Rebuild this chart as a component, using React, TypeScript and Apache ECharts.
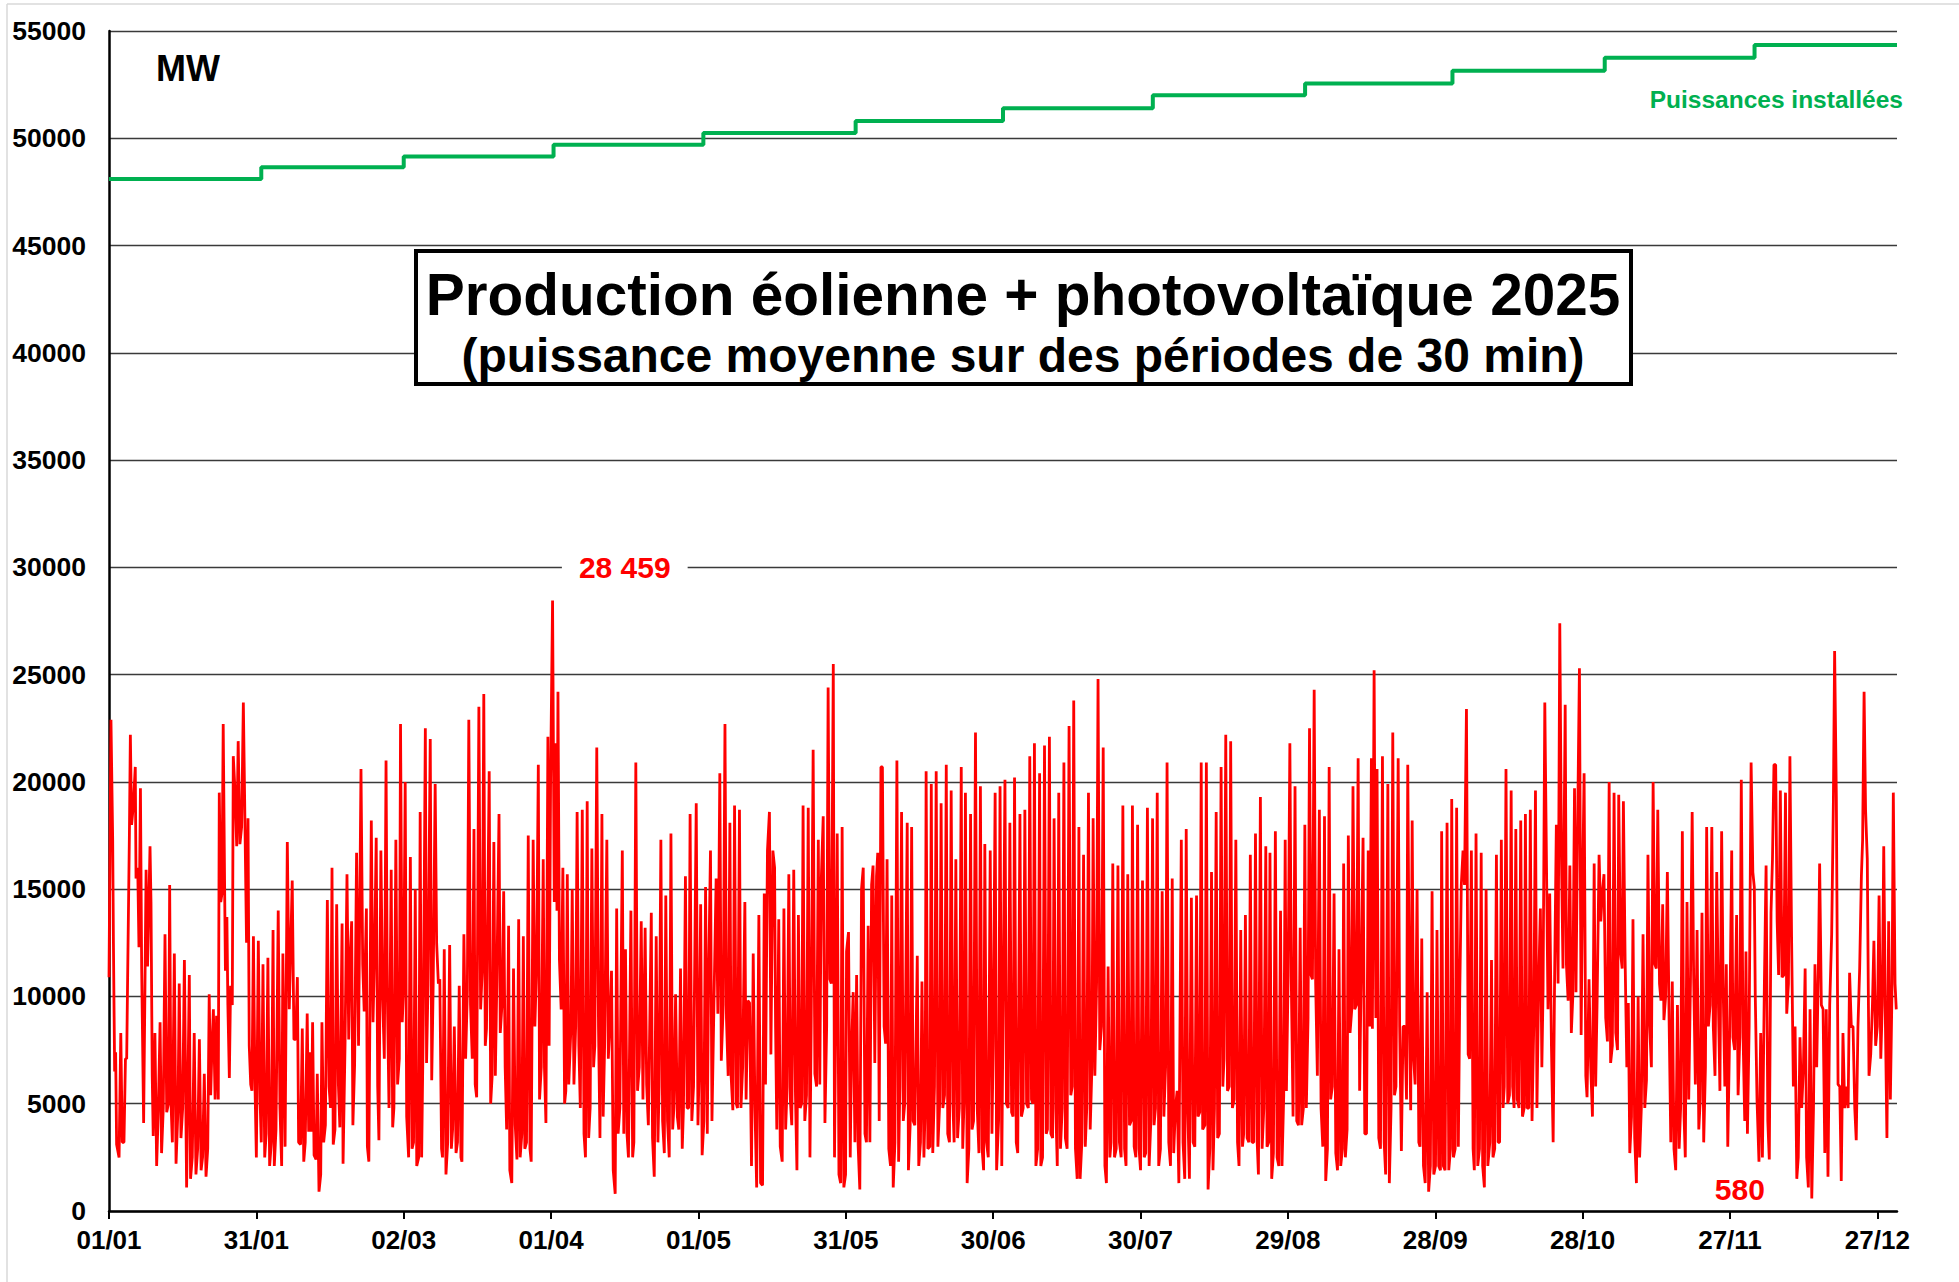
import React, { useEffect, useRef } from 'react';
import * as echarts from 'echarts';

// x tick labels (every 30 days from 01/01/2025)
const xTickLabels = ['01/01', '31/01', '02/03', '01/04', '01/05', '31/05', '30/06', '30/07', '29/08', '28/09', '28/10', '27/11', '27/12'];

// installed capacity (MW), step changes (day of year)
const installedDays = [0, 31, 60, 90.5, 121, 152, 182, 212.5, 243.5, 273.5, 304.5, 335, 364];
const installedMW = [48100, 48650, 49150, 49700, 50250, 50800, 51400, 52000, 52550, 53150, 53750, 54350, 54350];

// production (wind + PV), [day of year, MW]
const prodJan = [[0.0,10900],[0.4,22900],[0.75,17300],[0.9,12500],[1.15,6500],[1.35,7400],[1.55,3100],[2.05,2500],[2.4,8300],[2.7,3200],[3.05,3200],[3.35,7100],[3.6,7100],[3.8,11000],[4.15,17500],[4.35,22200],[4.6,18000],[4.95,18900],[5.35,20700],[5.5,15500],[5.85,16000],[6.1,12300],[6.4,19700],[6.65,11300],[7.05,4100],[7.55,15900],[7.85,11400],[8.35,17000],[8.55,14400],[8.8,6300],[9.0,3500],[9.35,8300],[9.7,2100],[10.05,4800],[10.4,8800],[10.7,2700],[11.05,4800],[11.4,12900],[11.75,4600],[12.1,5000],[12.35,15200],[12.6,5200],[12.9,3200],[13.3,12000],[13.65,2200],[14.05,4800],[14.3,10600],[14.65,3400],[15.0,4800],[15.35,11700],[15.8,1100],[16.35,11000],[16.6,1500],[16.95,2500],[17.35,8300],[17.7,1700],[18.05,2900],[18.4,8000],[18.75,1900],[19.05,2500],[19.4,6400],[19.75,1600],[20.1,2900],[20.4,10100],[20.7,5400],[20.95,7500],[21.25,9400],[21.6,5200],[21.9,9100],[22.25,5200],[22.45,19500],[22.75,14400],[23.0,14800],[23.25,22700],[23.55,14800],[23.7,11200],[24.0,13700],[24.2,9600],[24.5,6200],[24.75,10500],[25.1,9600],[25.3,21200],[25.65,19600],[26.0,17000],[26.3,21900],[26.65,17100],[27.0,17900],[27.35,23700],[27.6,19400],[28.0,12500],[28.3,18300],[28.55,7700],[28.85,5900],[29.1,5600],[29.4,12800],[29.7,6100],[30.0,2500],[30.4,12600],[30.75,5200],[31.0,3200],[31.35,11500],[31.7,2500],[32.0,3600],[32.35,11800],[32.7,2100],[33.05,3200],[33.4,13100],[33.65,2100],[34.0,3800],[34.45,14000],[34.8,4800]];
const prodFeb = [[35.15,2100],[35.4,12000],[35.85,3000],[36.3,17200],[36.7,9400],[37.3,15400],[37.65,8000],[38.0,8000],[38.35,10900],[38.6,3200],[39.0,3100],[39.35,8500],[39.65,2300],[39.95,3200],[40.35,9200],[40.65,3700],[41.0,7400],[41.2,3700],[41.45,8800],[41.75,2600],[42.15,2400],[42.4,6400],[42.75,900],[43.1,1700],[43.35,8800],[43.7,3200],[44.05,4000],[44.45,14500],[44.8,5800],[45.1,4800],[45.4,16000],[45.65,3100],[46.0,3800],[46.35,14300],[46.7,5900],[47.0,3900],[47.45,13400],[47.65,2200],[48.05,7700],[48.45,15700],[48.8,8000],[49.05,11600],[49.4,13500],[49.65,4000],[50.0,6800],[50.4,16700],[50.8,7700],[51.3,20600],[51.65,11500],[51.95,9300],[52.4,14100],[52.6,3000],[52.9,2300],[53.4,18200],[53.75,8800],[54.1,12500],[54.4,17400],[54.7,5800],[54.95,3300],[55.35,16800],[55.7,10000],[56.05,7100],[56.4,21000],[56.65,10400],[57.0,4800],[57.45,15900],[57.75,3900],[58.0,4800],[58.4,17300],[58.75,5900],[59.1,7100],[59.35,22700],[59.7,8800],[60.0,10600],[60.3,20000],[60.6,4400],[61.0,2500],[61.35,16500],[61.7,2900],[62.0,3200],[62.35,15000],[62.65,2100],[63.05,2500],[63.35,18600],[63.65,2500],[64.0,9200],[64.4,22500],[64.65,6900],[64.95,10600],[65.4,22000],[65.7,6100],[66.0,10600],[66.4,19900],[66.7,12500],[67.05,10600],[67.35,10800],[67.7,2900],[67.9,2500],[68.25,12200],[68.6,1700],[68.95,3200],[69.35,12400],[69.7,2900],[69.95,3800],[70.3,8600],[70.65,2700],[70.95,3200],[71.3,10500],[71.65,2500]];
const prodApr = [[71.85,2300],[72.25,12900],[72.6,7100],[72.95,10200],[73.25,22900],[73.6,9600],[73.95,7100],[74.3,17800],[74.55,5900],[74.85,5300],[75.3,23500],[75.65,9400],[76.0,11300],[76.3,24100],[76.6,7700],[76.85,8500],[77.4,20500],[77.7,5000],[78.0,6300],[78.35,17200],[78.65,6300],[78.95,10600],[79.4,18500],[79.65,8300],[80.0,9600],[80.35,14900],[80.65,6700],[80.95,3800],[81.35,13300],[81.6,1900],[82.0,1300],[82.35,11300],[82.7,4000],[83.05,2400],[83.4,13600],[83.7,2500],[84.05,3600],[84.35,12800],[84.65,2900],[85.0,3200],[85.35,17500],[85.7,2900],[85.95,2300],[86.35,17300],[86.7,8600],[87.05,11500],[87.4,20800],[87.65,5200],[88.0,6700],[88.4,16400],[88.65,6700],[88.95,4100],[89.35,22100],[89.6,7700],[89.9,20100],[90.3,28459],[90.65,14400],[90.85,21800],[91.2,14000],[91.4,24200],[91.7,11700],[92.05,9400],[92.4,16000],[92.75,5000],[93.0,5600],[93.3,15700],[93.6,5900],[94.05,8600],[94.3,15000],[94.65,5900],[95.0,8600],[95.3,18600],[95.65,7700],[95.95,4800],[96.35,18700],[96.7,3600],[97.0,2500],[97.35,19100],[97.65,3400],[97.95,4800],[98.3,16900],[98.65,6700],[98.9,7700],[99.3,21600],[99.65,8600],[99.95,3400],[100.35,18500],[100.6,4400],[100.9,7700],[101.35,17300],[101.65,7100],[101.95,8600],[102.3,11200],[102.65,1900],[103.05,800],[103.35,14100],[103.65,3600],[104.0,4800],[104.5,16800],[104.8,3600],[105.15,12200],[105.45,3600],[105.75,2500],[106.25,14000],[106.6,2500],[106.85,3200],[107.25,20900],[107.6,5600],[107.95,6700],[108.35,13500],[108.7,5200]];
const prodMay = [[109.15,13200],[109.45,5900],[109.8,4000],[110.4,13900],[110.65,3400],[111.0,1600],[111.4,12800],[111.75,3200],[112.0,5800],[112.35,17300],[112.7,4200],[113.05,2700],[113.35,14700],[113.7,4200],[114.05,2500],[114.4,17600],[114.75,3800],[115.0,4800],[115.35,10100],[115.7,4400],[116.0,3800],[116.35,11300],[116.7,2900],[116.95,4800],[117.35,15600],[117.7,4800],[118.0,4800],[118.3,18500],[118.65,4200],[119.0,5800],[119.55,19000],[119.9,4000],[120.15,6700],[120.45,14300],[120.75,2600],[121.1,4200],[121.45,15100],[121.8,3600],[122.05,10600],[122.45,16800],[122.75,4200],[123.15,9600],[123.6,15500],[123.95,9200],[124.35,20400],[124.65,7000],[125.05,9600],[125.4,22700],[125.7,9000],[126.05,6300],[126.4,18100],[126.65,6300],[127.0,4700],[127.35,18900],[127.7,5000],[127.95,4800],[128.35,18700],[128.65,4800],[129.0,6700],[129.45,14400],[129.7,5200],[130.05,9800],[130.4,9700],[130.8,2100],[131.15,12000],[131.5,4800],[131.85,1100],[132.3,13800],[132.65,1300],[133.05,1200],[133.4,14800],[133.65,5900],[134.05,16800],[134.45,18600],[134.75,7300],[135.15,16800],[135.5,16000],[135.7,8600],[135.95,3800],[136.35,13600],[136.65,3000],[137.05,2300],[137.4,14100],[137.75,3800],[138.05,5800],[138.4,15700],[138.7,5200],[139.0,4000],[139.4,15900],[139.75,5400],[140.05,1900],[140.35,13800],[140.7,4800],[141.0,5000],[141.3,18900],[141.65,4200],[142.0,5400],[142.35,18800],[142.7,2500],[142.95,8600],[143.35,21500],[143.7,6400],[144.05,5800],[144.4,17300],[144.7,5900],[145.0,15400]];
const prodJun = [[145.4,18400],[145.75,4100],[146.1,8600],[146.4,24400],[146.75,10800],[147.05,10600],[147.45,25500],[147.7,2500],[148.0,10600],[148.25,17600],[148.6,1700],[148.95,1300],[149.25,17900],[149.6,1100],[149.95,1700],[150.15,12100],[150.55,13000],[150.9,2500],[151.15,7300],[151.5,10200],[151.85,3200],[152.2,11000],[152.5,3100],[152.85,1000],[153.2,15000],[153.55,16000],[153.9,3600],[154.2,3200],[154.55,13300],[154.9,3200],[155.25,15200],[155.55,16100],[155.9,6900],[156.25,15600],[156.5,16700],[156.8,4200],[157.15,20700],[157.45,20700],[157.8,8600],[158.1,7800],[158.4,16400],[158.75,2900],[159.1,2100],[159.35,14700],[159.65,1100],[160.0,3200],[160.4,21000],[160.75,2300],[161.0,5800],[161.35,18600],[161.7,4200],[162.0,5000],[162.5,18100],[162.75,1900],[163.1,4000],[163.4,17900],[163.7,4200],[164.05,4000],[164.55,11900],[164.85,2100],[165.2,3200],[165.5,10700],[165.9,2500],[166.15,4800],[166.35,20500],[166.7,2900],[167.1,3000],[167.4,19900],[167.7,2700],[168.05,5800],[168.4,20500],[168.75,3000],[169.1,5000],[169.4,19000],[169.75,4800],[170.1,5400],[170.45,20800],[170.75,3600],[171.1,3200],[171.45,19600],[171.8,5000],[172.05,3200],[172.4,16400],[172.75,3400],[173.1,4800],[173.5,20700],[173.8,2900],[174.1,5400],[174.35,19500],[174.7,1300],[175.05,2900],[175.4,18500],[175.7,3800],[176.0,4200],[176.4,22300],[176.75,4800],[177.1,2700],[177.4,19800],[177.75,2900],[178.05,1900],[178.3,17100],[178.65,3200],[179.0,2500],[179.4,16800],[179.75,3600],[180.0,7700],[180.4,19500],[180.7,1900],[181.1,4200],[181.4,19800],[181.75,2100]];
const prodJul = [[182.4,20100],[182.7,5000],[183.05,4800],[183.4,18100],[183.75,4600],[184.05,4400],[184.35,20200],[184.7,3200],[185.0,2700],[185.45,18500],[185.75,4400],[186.1,4800],[186.45,18700],[186.8,5000],[187.15,4800],[187.45,21200],[187.8,5200],[188.1,5000],[188.4,21800],[188.7,2100],[189.05,2900],[189.45,20400],[189.7,2100],[190.05,2500],[190.45,21700],[190.8,3600],[191.05,3800],[191.45,22100],[191.75,3600],[192.1,3400],[192.4,18300],[192.75,4800],[193.05,2100],[193.35,19500],[193.7,2900],[194.05,4800],[194.4,20900],[194.7,3400],[195.05,2900],[195.45,22600],[195.8,5400],[196.1,5800],[196.4,23800],[196.75,2900],[197.1,1500],[197.45,17900],[197.7,1500],[198.05,3200],[198.4,16600],[198.75,3000],[199.05,4800],[199.4,19500],[199.75,3800],[200.1,6700],[200.35,18300],[200.7,6300],[201.05,10600],[201.35,24800],[201.7,7500],[202.05,8600],[202.4,21600],[202.75,2100],[203.05,1300],[203.4,11400],[203.75,2500],[204.0,3200],[204.35,16200],[204.7,2500],[205.05,2900],[205.4,16100],[205.7,3200],[206.05,2500],[206.4,18900],[206.75,2900],[207.05,2100],[207.4,15700],[207.75,4000],[208.1,4200],[208.35,18900],[208.7,3000],[209.05,2500],[209.4,18000],[209.7,2900],[210.0,1900],[210.4,15400],[210.75,2500],[211.05,2700],[211.4,18800],[211.75,2100],[212.1,4200],[212.45,18300],[212.75,4000],[213.05,4800],[213.4,19500],[213.7,2100],[214.05,2900],[214.4,14900],[214.75,4400],[215.1,6700],[215.4,20900],[215.75,3200],[216.1,2100],[216.45,15500],[216.75,2700],[217.1,4800],[217.45,5600],[217.8,1300],[218.3,17300]];
const prodAug = [[218.65,3200],[219.0,1500],[219.3,17800],[219.6,4800],[219.95,1500],[220.35,14600],[220.7,3200],[221.05,3000],[221.4,14700],[221.7,4400],[222.05,4600],[222.35,20900],[222.65,3800],[223.1,4000],[223.4,20900],[223.75,1000],[224.1,2900],[224.45,15800],[224.75,1900],[225.05,4800],[225.4,18600],[225.7,3400],[226.05,3600],[226.4,20700],[226.75,5800],[227.0,7100],[227.35,22200],[227.7,5600],[228.05,5800],[228.35,21900],[228.7,4800],[229.05,5200],[229.4,17300],[229.75,3200],[230.05,2100],[230.4,13100],[230.75,3000],[231.0,3600],[231.35,13800],[231.7,3400],[232.05,3200],[232.35,16600],[232.7,3200],[233.05,3200],[233.4,17600],[233.75,3200],[234.0,1700],[234.4,19300],[234.75,2900],[235.1,4800],[235.5,17000],[235.75,3000],[236.1,3200],[236.35,16700],[236.7,1500],[237.05,2700],[237.45,17700],[237.8,2500],[238.15,2100],[238.5,14000],[238.8,2100],[239.15,5400],[239.45,17300],[239.7,5600],[240.05,11000],[240.4,21800],[240.7,10600],[241.05,4400],[241.45,19800],[241.8,4200],[242.15,4000],[242.5,13200],[242.8,4000],[243.15,4800],[243.45,18000],[243.75,4800],[244.1,9000],[244.4,22500],[244.7,11000],[245.0,10800],[245.35,24300],[245.65,10600],[246.0,6300],[246.4,18700],[246.75,4800],[247.1,3000],[247.45,18400],[247.7,1400],[248.05,2900],[248.4,20700],[248.7,5200],[249.05,5800],[249.4,14800],[249.75,2700],[250.1,1900],[250.4,12200],[250.75,2100],[251.1,2900],[251.35,16200],[251.7,2500],[252.05,3800],[252.3,17500],[252.65,8300],[253.0,9400],[253.25,19800],[253.6,9400],[253.95,9600],[254.3,21100],[254.6,5600]];
const prodSep = [[255.3,17400],[255.65,3600],[256.0,3600],[256.35,16800],[256.65,8600],[257.0,21100],[257.2,8500],[257.55,25200],[257.9,9000],[258.15,20600],[258.5,3400],[258.85,2900],[259.25,21200],[259.6,3200],[259.9,1700],[260.35,19900],[260.65,1300],[261.0,4800],[261.35,22300],[261.7,5400],[262.0,5800],[262.45,21100],[262.75,8600],[263.1,2800],[263.45,8600],[263.8,8600],[264.15,5200],[264.4,20800],[264.75,8600],[265.0,4700],[265.3,18200],[265.6,7100],[265.9,5900],[266.3,15000],[266.65,3200],[266.9,3000],[267.25,12700],[267.6,2100],[267.95,1300],[268.35,10200],[268.65,900],[269.0,2100],[269.35,14900],[269.7,1700],[270.05,2100],[270.35,13100],[270.7,2100],[271.05,1900],[271.3,17700],[271.65,2100],[272.0,1900],[272.4,18100],[272.75,1900],[273.1,2900],[273.35,19200],[273.7,2500],[274.05,2900],[274.35,18800],[274.7,3000],[275.0,10400],[275.3,15200],[275.65,16800],[275.95,15200],[276.35,23400],[276.7,7300],[277.0,7100],[277.35,16800],[277.7,2900],[277.95,1900],[278.3,17600],[278.65,2100],[279.0,2900],[279.35,16700],[279.65,2100],[280.0,1100],[280.35,15000],[280.7,2100],[281.1,3200],[281.45,11700],[281.75,2500],[282.1,2900],[282.45,16600],[282.8,3200],[283.1,3200],[283.45,17300],[283.8,4800],[284.05,5800],[284.4,20600],[284.75,5000],[285.1,5400],[285.45,19600],[285.75,5800],[286.05,4800],[286.4,17800],[286.7,5200],[287.05,4800],[287.4,18200],[287.75,4400],[288.1,4800],[288.35,18500],[288.7,4800],[289.05,4800],[289.35,18700],[289.7,4200],[290.05,8600],[290.4,19600],[290.7,4800],[291.05,10600],[291.4,14100]];
const prodOct = [[291.7,6700],[291.95,10400],[292.3,23700],[292.65,16000],[292.95,9400],[293.3,14800],[293.65,7700],[294.0,3200],[294.3,11000],[294.65,18000],[295.0,10600],[295.35,27400],[295.7,16400],[296.0,11300],[296.45,23600],[296.7,11500],[297.05,9800],[297.4,16100],[297.7,8300],[298.0,10000],[298.35,19700],[298.65,10200],[298.95,17300],[299.35,25300],[299.7,8200],[299.95,14400],[300.3,20400],[300.65,6300],[300.9,5300],[301.3,10800],[301.65,6700],[302.0,4400],[302.35,16200],[302.65,5800],[302.95,9800],[303.35,16600],[303.7,13500],[304.0,14800],[304.35,15700],[304.7,9000],[305.05,7900],[305.4,20000],[305.7,6900],[306.05,7700],[306.4,19500],[306.75,8300],[307.1,7500],[307.35,19400],[307.7,12100],[308.05,11300],[308.3,19100],[308.65,11700],[309.0,6700],[309.3,9700],[309.6,2700],[309.95,4400],[310.25,13600],[310.6,3400],[310.95,1300],[311.3,10000],[311.6,2500],[311.95,4800],[312.3,12900],[312.65,4800],[313.0,6100],[313.3,16600],[313.65,8600],[314.0,6700],[314.35,20000],[314.7,11500],[315.0,11300],[315.3,18700],[315.65,10600],[315.95,9800],[316.3,14300],[316.55,8900],[316.9,10000],[317.25,15800],[317.6,9000],[317.95,3200],[318.25,10700],[318.6,2900],[318.95,1900],[319.3,9600],[319.65,2900],[319.95,4800],[320.3,17700],[320.65,4400],[320.9,2500],[321.25,14400],[321.6,5200],[321.95,10600],[322.3,18600],[322.6,11000],[322.95,5900],[323.3,13100],[323.65,3800],[323.95,5200],[324.3,13900],[324.65,3200],[325.0,6700],[325.25,17900],[325.6,8600],[325.95,9600],[326.3,17900],[326.6,8600],[326.95,6300],[327.3,15800],[327.65,9600],[327.95,5600],[328.3,17700],[328.6,10600]];
const prodDec = [[328.95,5800],[329.25,11500],[329.55,3000],[329.95,8600],[330.35,16800],[330.6,8100],[330.95,7500],[331.35,13800],[331.65,5400],[332.0,8100],[332.3,20100],[332.65,8300],[333.0,4200],[333.25,12100],[333.55,3600],[333.9,8600],[334.3,20900],[334.65,15800],[334.95,15100],[335.15,10000],[335.5,5200],[335.9,2300],[336.25,8300],[336.6,2500],[337.0,10600],[337.35,16100],[337.7,4200],[338.0,2400],[338.35,13900],[338.65,16400],[338.95,20800],[339.3,20800],[339.6,13500],[339.9,11000],[340.25,19600],[340.6,10900],[340.95,11000],[341.3,19500],[341.55,9200],[341.9,10600],[342.2,21200],[342.55,12500],[342.9,5800],[343.25,8600],[343.6,1500],[343.9,2500],[344.25,8100],[344.6,4800],[344.95,6700],[345.3,11300],[345.6,2500],[345.95,1100],[346.3,9400],[346.65,580],[347.0,4800],[347.3,11500],[347.65,6700],[348.0,11400],[348.25,16200],[348.6,9600],[348.95,9400],[349.3,2700],[349.6,9400],[349.95,1600],[350.3,9600],[350.7,12900],[351.05,19100],[351.3,26100],[351.65,19300],[352.0,5900],[352.35,5800],[352.65,1400],[353.0,8300],[353.35,4800],[353.7,5800],[354.05,4800],[354.35,11100],[354.7,8600],[355.05,8600],[355.4,4800],[355.7,3300],[356.05,8600],[356.4,11300],[356.75,15600],[357.0,17300],[357.3,24200],[357.6,18700],[357.95,16400],[358.3,6300],[358.65,7300],[359.0,9600],[359.3,12600],[359.65,7700],[360.0,8600],[360.35,14700],[360.7,7100],[361.0,9600],[361.3,17000],[361.65,8600],[361.95,3400],[362.3,13500],[362.65,5200],[363.0,10600],[363.25,19500],[363.6,10600],[363.85,9400]];

// annotations
const maxText = '28 459';
const maxLabelAt = [105, 30000];
const minText = '580';
const minLabelAt = [332, 1000];

const FONT = "'Liberation Sans', Arial, Helvetica, sans-serif";

export default function App() {
  const ref = useRef<HTMLDivElement>(null);
  useEffect(() => {
    if (!ref.current) return;
    const chart = echarts.init(ref.current, null, { renderer: 'svg' });
    const production = [
      ...prodJan, ...prodFeb, ...prodApr, ...prodMay, ...prodJun,
      ...prodJul, ...prodAug, ...prodSep, ...prodOct, ...prodDec,
    ];
    const installed = installedDays.map((d, i) => [d, installedMW[i]]);
    chart.setOption({
      animation: false,
      backgroundColor: '#ffffff',
      textStyle: { fontFamily: FONT },
      grid: { left: 109, right: 62, top: 31, bottom: 71, containLabel: false },
      xAxis: {
        type: 'value',
        min: 0,
        max: 364,
        interval: 30,
        axisLine: { show: true, onZero: false, lineStyle: { color: '#000', width: 2.5 } },
        axisTick: { show: true, length: 8, lineStyle: { color: '#000', width: 2 } },
        splitLine: { show: false },
        axisLabel: {
          color: '#000',
          fontSize: 26,
          fontWeight: 'bold',
          fontFamily: FONT,
          margin: 16,
          showMaxLabel: false,
          formatter: (v: number) => {
            const i = Math.round(v / 30);
            return Math.abs(v - i * 30) < 1e-6 && i < xTickLabels.length ? xTickLabels[i] : '';
          },
        },
      },
      yAxis: {
        type: 'value',
        min: 0,
        max: 55000,
        interval: 5000,
        axisLine: { show: true, lineStyle: { color: '#000', width: 2.5 } },
        axisTick: { show: false },
        splitLine: { show: true, lineStyle: { color: '#3a3a3a', width: 1.3 } },
        axisLabel: {
          color: '#000',
          fontSize: 26.5,
          fontWeight: 'bold',
          fontFamily: FONT,
          margin: 23,
          formatter: (v: number) => String(v),
        },
      },
      series: [
        {
          name: 'Production',
          type: 'line',
          data: production,
          showSymbol: false,
          symbol: 'none',
          lineStyle: { color: '#ff0000', width: 2.8 },
          z: 3,
          markPoint: {
            symbol: 'rect',
            symbolSize: 1,
            itemStyle: { color: 'rgba(0,0,0,0)' },
            label: {
              show: true,
              position: 'inside',
              color: '#ff0000',
              fontSize: 30,
              fontWeight: 'bold',
              fontFamily: FONT,
            },
            data: [
              {
                coord: maxLabelAt,
                value: maxText,
                label: { formatter: maxText, backgroundColor: '#ffffff', padding: [4, 17, 4, 17] },
              },
              {
                coord: minLabelAt,
                value: minText,
                label: { formatter: minText },
              },
            ],
          },
        },
        {
          name: 'Puissances installées',
          type: 'line',
          step: 'end',
          data: installed,
          showSymbol: false,
          symbol: 'none',
          lineStyle: { color: '#00b050', width: 4 },
          z: 4,
        },
      ],
      graphic: [
        {
          type: 'line',
          shape: { x1: 7, y1: 4, x2: 1959, y2: 4 },
          style: { stroke: '#d9d9d9', lineWidth: 1.5 },
          silent: true,
        },
        {
          type: 'line',
          shape: { x1: 7, y1: 4, x2: 7, y2: 1282 },
          style: { stroke: '#d9d9d9', lineWidth: 1.5 },
          silent: true,
        },
        {
          type: 'text',
          left: 156,
          top: 50,
          style: { text: 'MW', fill: '#000', font: `bold 36px ${FONT}` },
          z: 10,
        },
        {
          type: 'text',
          right: 56,
          top: 87,
          style: { text: 'Puissances installées', fill: '#00b050', font: `bold 24.5px ${FONT}` },
          z: 10,
        },
        {
          type: 'rect',
          shape: { x: 416, y: 251, width: 1215, height: 133 },
          style: { fill: '#ffffff', stroke: '#000000', lineWidth: 4 },
          z: 20,
        },
        {
          type: 'text',
          x: 1023,
          y: 294,
          style: {
            text: 'Production éolienne + photovoltaïque 2025',
            fill: '#000',
            font: `bold 58.5px ${FONT}`,
            textAlign: 'center',
            textVerticalAlign: 'middle',
          },
          z: 21,
        },
        {
          type: 'text',
          x: 1023,
          y: 355,
          style: {
            text: '(puissance moyenne sur des périodes de 30 min)',
            fill: '#000',
            font: `bold 48px ${FONT}`,
            textAlign: 'center',
            textVerticalAlign: 'middle',
          },
          z: 21,
        },
      ],
    });
    return () => chart.dispose();
  }, []);
  return (
    <div
      ref={ref}
      style={{ position: 'fixed', left: 0, top: 0, width: 1959, height: 1282, background: '#fff' }}
    />
  );
}
